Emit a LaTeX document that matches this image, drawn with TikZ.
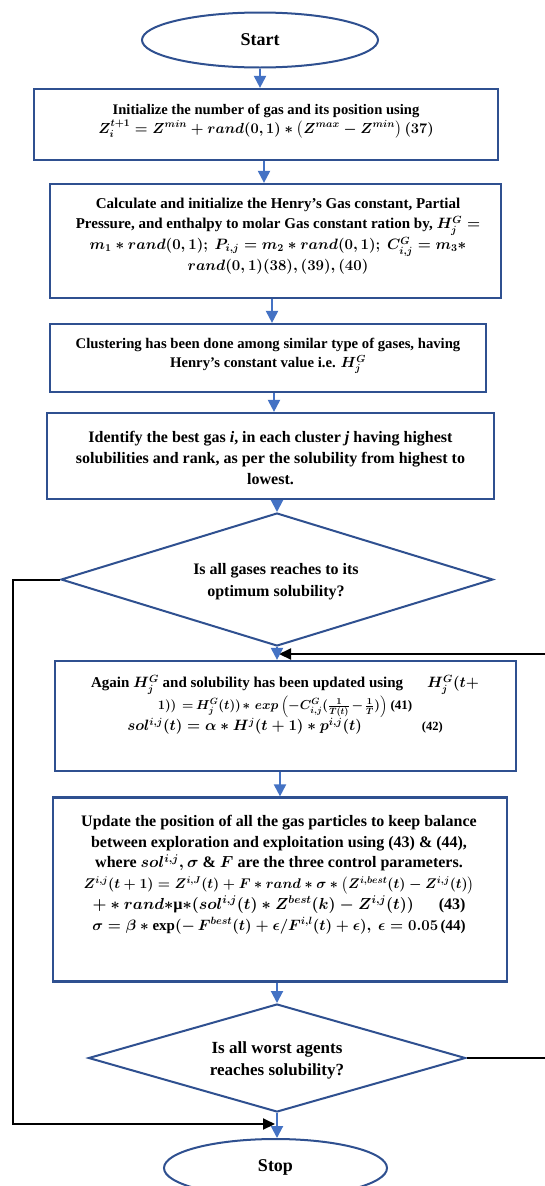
\RequirePackage{fix-cm}
\documentclass[tikz,border=0pt]{standalone}
\usepackage{amsmath}
\usepackage{fontspec}
\setmainfont{Liberation Serif}
\usetikzlibrary{shapes.geometric,arrows.meta}
\definecolor{navy}{HTML}{2F5090}
\definecolor{arrblue}{HTML}{4472C4}
\newcommand{\fsz}[2]{\fontsize{#1}{#2}\selectfont}
\begin{document}
\begin{tikzpicture}[x=1pt,y=-1pt,
  boxnode/.style={draw=navy,line width=2.2pt,rectangle,inner sep=0pt},
  ovalnode/.style={draw=navy,line width=2pt,ellipse,inner sep=0pt},
  decnode/.style={draw=navy,line width=2pt,diamond,inner sep=0pt},
  txt/.style 2 args={align=center,inner sep=0pt,font=\fontsize{#1}{#2}\selectfont\bfseries\boldmath},
  flow/.style={draw=arrblue,line width=2pt,-{Triangle[width=12pt,length=12pt]}},
  looparrow/.style={draw=black,line width=2pt,-{Triangle[width=11pt,length=12pt]}},
]
\useasboundingbox (0,0) rectangle (544,1186);
\fill[white] (0,0) rectangle (544,1186);

% shapes
\node[ovalnode,minimum width=236pt,minimum height=55pt] (start) at (260,40) {};
\node[txt={18}{20}] (tstart) at (260,40) {Start};

\node[boxnode,minimum width=464pt,minimum height=71pt] (b1) at (266,124.5) {};
\node[txt={14.6}{19}] (t1) at (266,121) {Initialize the number of gas and its position using\\
$Z_i^{t+1}=Z^{min}+rand(0,1)*\left(Z^{max}-Z^{min}\right)(37)$};

\node[boxnode,minimum width=451pt,minimum height=114pt] (b2) at (275.5,241) {};
\node[txt={15}{20.8}] (t2) at (278,236) {Calculate and initialize the Henry’s Gas constant, Partial\\
Pressure, and enthalpy to molar Gas constant ration by, $H_j^G=$\\
$m_1*rand(0,1);\ P_{i,j}=m_2*rand(0,1);\ C_{i,j}^G=m_3*$\\
$rand(0,1)(38),(39),(40)$};

\node[boxnode,minimum width=436pt,minimum height=68pt] (b3) at (268,358) {};
\node[txt={14.7}{19}] (t3) at (268,356) {Clustering has been done among similar type of gases, having\\
Henry’s constant value i.e. $H_j^G$};

\node[boxnode,minimum width=447pt,minimum height=86pt] (b4) at (270.5,456) {};
\node[txt={16}{21}] (t4) at (270.5,458) {Identify the best gas \textit{i}, in each cluster \textit{j} having highest\\
solubilities and rank, as per the solubility from highest to\\
lowest.};

\node[decnode,minimum width=432pt,minimum height=133pt] (d1) at (277,579.5) {};
\node[txt={16}{22}] (td1) at (276,582) {Is all gases reaches to its\\optimum solubility?};

\node[boxnode,minimum width=461pt,minimum height=110pt] (b5) at (285.5,716) {};
\node[txt={15}{20}] (t5) at (285,705) {Again $H_j^G$ and solubility has been updated using\hspace{24pt}$H_j^G(t+$\\
{\fsz{13}{20}\medmuskip=2mu\thickmuskip=3mu$1))\ =H_j^G(t))*\ exp\left(-C_{i,j}^G(\frac{1}{T(t)}-\frac{1}{T})\right)$\ (41)}\\
$sol^{i,j}(t)=\alpha*H^j(t+1)*p^{i,j}(t)$\hspace{60pt}{\fsz{12.5}{20}(42)}};

\node[boxnode,minimum width=454pt,minimum height=184pt] (b6) at (280,889.5) {};
\node[txt={16}{20.8}] (t6) at (279,874.5) {Update the position of all the gas particles to keep balance\\
between exploration and exploitation using (43) \& (44),\\
where $sol^{i,j},\sigma$ \& $F$ are the three control parameters.\\
{\fsz{14}{20.8}$Z^{i,j}(t+1)=Z^{i,J}(t)+F*rand*\sigma*\left(Z^{i,best}(t)-Z^{i,j}(t)\right)$}\\
$+*rand*$µ$*(sol^{i,j}(t)*Z^{best}(k)-Z^{i,j}(t))$\hspace{25pt}(43)\\
{\fsz{15}{20.8}$\sigma=\beta*\exp(-\,F^{best}(t)+\epsilon/F^{i,l}(t)+\epsilon),\ \epsilon=0.05$\,(44)}};

\node[decnode,minimum width=377pt,minimum height=108pt] (d2) at (277,1058) {};
\node[txt={17}{22}] (td2) at (277,1060) {Is all worst agents\\reaches solubility?};

\node[ovalnode,minimum width=223pt,minimum height=58pt] (stop) at (275.5,1168) {};
\node[txt={18}{20}] (tstop) at (275.5,1167) {Stop};

% loop coordinates
\coordinate (lcol) at (13,0);
\coordinate (ltip) at (275,1124);
\coordinate (rcol) at (548,0);
\coordinate (rtip) at (279,654);

% black loop connectors
\draw[looparrow] (d1.west) -- (d1.west -| lcol) -- (ltip -| lcol) -- (ltip);
\draw[looparrow] (d2.east) -- (d2.east -| rcol) -- (rtip -| rcol) -- (rtip);

% blue flow arrows
\draw[flow] (start.south) -- (start.south |- b1.north);
\draw[flow] (b1.south -| 264,0) -- (b2.north -| 264,0);
\draw[flow] (b2.south -| 272,0) -- (b3.north -| 272,0);
\draw[flow] (b3.south -| 274,0) -- (b4.north -| 274,0);
\draw[flow] (d1.north |- b4.south) -- (d1.north);
\draw[flow] (d1.south) -- (d1.south |- b5.north);
\draw[flow] (b6.north |- b5.south) -- (b6.north);
\draw[flow] (d2.north |- b6.south) -- (d2.north);
\draw[flow] (d2.south) -- (d2.south |- stop.north);
\end{tikzpicture}
\end{document}
